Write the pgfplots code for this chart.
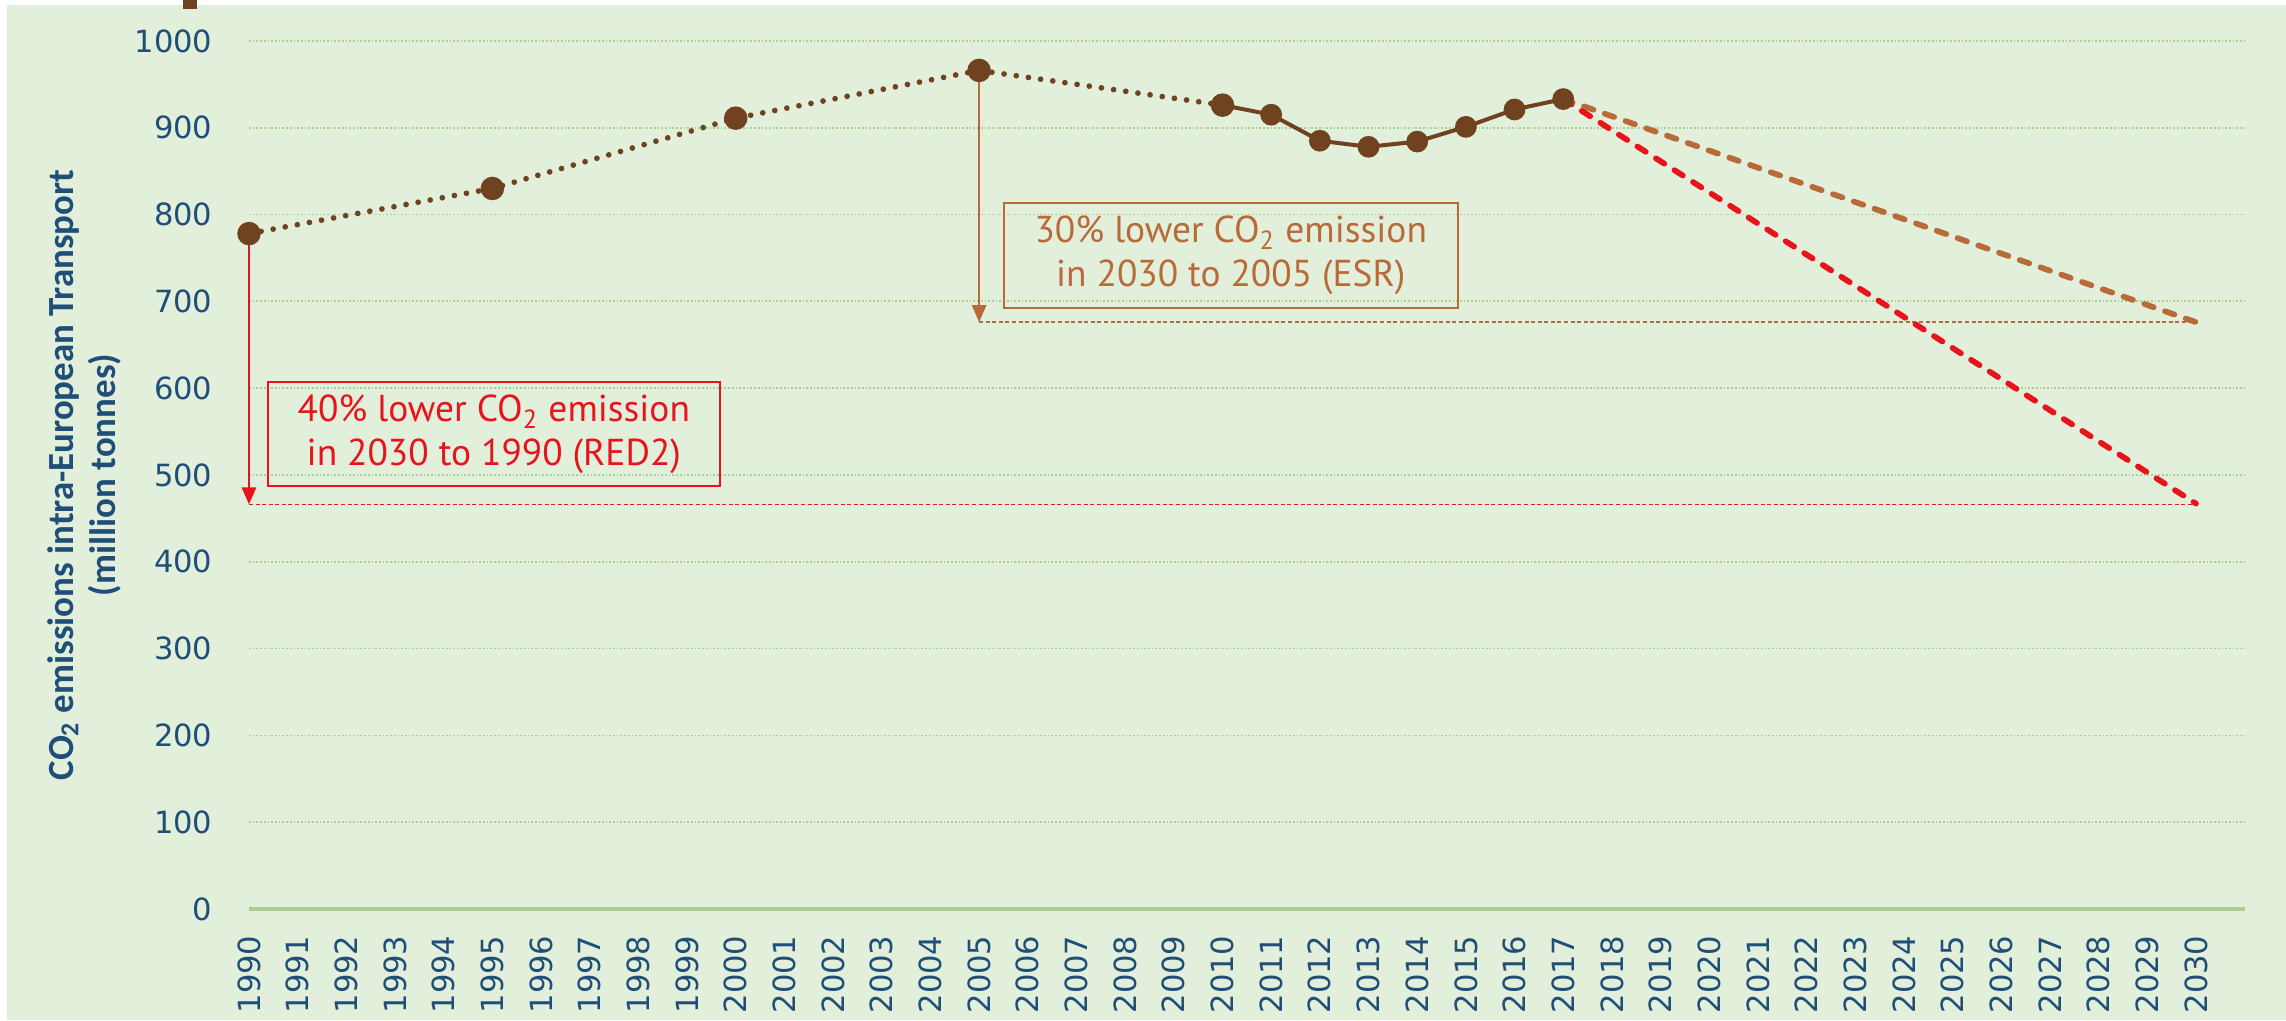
\documentclass[border=0pt]{standalone}
\usepackage{pgfplots}
\pgfplotsset{compat=1.18}
\usepackage{fontspec}
\usetikzlibrary{arrows.meta}
\setmainfont{DejaVu Sans}
\newfontfamily\annfont{PT Sans}
\newfontfamily\labfont{Carlito}
\definecolor{bg}{HTML}{E2EFDA}
\definecolor{gridc}{HTML}{A9D08E}
\definecolor{tickc}{HTML}{1F4E79}
\definecolor{histc}{HTML}{70421F}
\definecolor{esrc}{HTML}{B86A38}
\definecolor{redc}{HTML}{E8141C}
\begin{document}
\begin{tikzpicture}
\useasboundingbox (-87.14pt,-38.85pt) rectangle (712.86pt,318.11pt);
\fill[white] (-87.14pt,-38.85pt) rectangle (712.86pt,318.11pt);
\fill[bg] (-84.69pt,-38.85pt) rectangle (712.86pt,316.36pt);
\fill[histc] (-23.1pt,315pt) rectangle (-18.2pt,318.11pt);
\begin{axis}[
  at={(0,0)}, anchor=south west,
  scale only axis, width=698.4pt, height=303.8pt,
  xmin=1990, xmax=2031, ymin=0, ymax=1000,
  clip=false,
  axis line style={draw=none},
  xtick={1990,1991,...,2030},
  ytick={0,100,...,1000},
  major tick length=0pt,
  scaled ticks=false,
  /pgf/number format/1000 sep={},
  /pgf/number format/assume math mode=true,
  ymajorgrids,
  grid style={gridc, line width=0.6pt, dash pattern=on 0.6pt off 0.7pt},
  ticklabel style={font=\fontsize{10.7}{12}\selectfont, text=tickc},
  yticklabel style={inner sep=0pt, anchor=east, xshift=-12.6pt},
  xticklabel style={inner sep=0pt, yshift=-9.1pt, rotate=90, anchor=east},
]
\draw[gridc, line width=1.2pt] (axis cs:1990,0) -- (axis cs:2031,0);
% reference lines
\addplot[redc, line width=0.6pt, dash pattern=on 1.4pt off 0.9pt] coordinates {(1990,466) (2030,466)};
\addplot[esrc, line width=0.6pt, dash pattern=on 1.4pt off 0.9pt] coordinates {(2005,676) (2030,676)};
% arrows
\addplot[redc, line width=0.8pt, -{Triangle[length=6pt,width=5pt]}] coordinates {(1990,778) (1990,466)};
\addplot[esrc, line width=0.8pt, -{Triangle[length=6pt,width=5pt]}] coordinates {(2005,966) (2005,676)};
% projections
\addplot[esrc, line width=2pt, line cap=round, dash pattern=on 3.5pt off 4.2pt] coordinates {(2017,933) (2030,676)};
\addplot[redc, line width=2pt, line cap=round, dash pattern=on 3.5pt off 4.2pt] coordinates {(2017,933) (2030,467)};
% history dotted
\addplot[histc, line width=2pt, line cap=round, dash pattern=on 0pt off 4.3pt, mark=*, mark size=3.1pt, mark options={solid, fill=histc}]
  coordinates {(1990,778) (1995,830) (2000,911) (2005,966) (2010,926)};
% history solid
\addplot[histc, line width=1.4pt, mark=*, mark size=3.1pt, mark options={fill=histc}]
  coordinates {(2010,926) (2011,915) (2012,885) (2013,878) (2014,884) (2015,901) (2016,921) (2017,933)};
% boxes
\node[draw=redc, line width=0.7pt, text=redc, align=center, minimum width=158.2pt, minimum height=36.4pt, inner sep=0pt,
  font=\annfont\fontsize{13.1}{15.4}\selectfont] at (axis cs:1995.03,547.2)
  {40\% lower CO\textsubscript{2} emission\\in 2030 to 1990 (RED2)};
\node[draw=esrc, line width=0.7pt, text=esrc, align=center, minimum width=158.9pt, minimum height=36.7pt, inner sep=0pt,
  font=\annfont\fontsize{13.1}{15.4}\selectfont] at (axis cs:2010.17,752.9)
  {30\% lower CO\textsubscript{2} emission\\in 2030 to 2005 (ESR)};
% y label
\node[xshift=-57.7pt, rotate=90, align=center, text=tickc, font=\labfont\bfseries\fontsize{12.9}{14.7}\selectfont]
  at (rel axis cs:0,0.5) {CO\textsubscript{2} emissions intra-European Transport\\(million tonnes)};
\end{axis}
\end{tikzpicture}
\end{document}
